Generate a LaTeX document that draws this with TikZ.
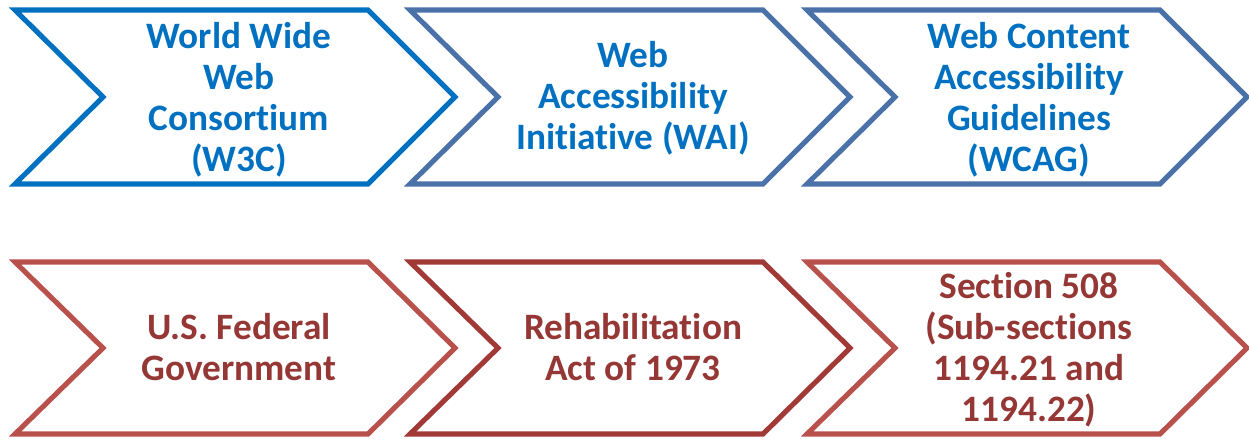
\documentclass[tikz,border=0pt]{standalone}
\usepackage{fontspec}
\setmainfont[Ligatures=NoCommon]{Carlito}
\usepackage{tikz}
\usetikzlibrary{positioning,calc}
\definecolor{wblue}{HTML}{0070C0}
\definecolor{wsteel}{HTML}{4A71A8}
\definecolor{wred}{HTML}{B8504C}
\definecolor{wdark}{HTML}{A13A37}
\definecolor{wtext}{HTML}{953735}
\tikzset{
  chev/.style={line width=1.45pt, line join=miter},
  chevtext/.style={align=center, font=\fontsize{10.6}{11.7}\selectfont\bfseries}
}
% one chevron: left x, top y, bottom y, colour
\newcommand{\chevron}[4]{%
  \draw[chev,#4] (#1,#2) -- ++(353,0) -- ($(#1+440,#2/2+#3/2)$) -- (#1+353,#3)
    -- (#1,#3) -- ($(#1+88,#2/2+#3/2)$) -- cycle;}

\begin{document}
\begin{tikzpicture}[x=0.01cm,y=-0.01cm]
  \useasboundingbox (0,0) rectangle (1249,438);
  % top row
  \chevron{15}{10}{184}{wblue}
  \chevron{410}{10}{184}{wsteel}
  \chevron{807}{10}{184}{wsteel}
  \node[chevtext,text=wblue] (w3c) at (239,100) {World Wide\\Web\\Consortium\\(W3C)};
  \node[chevtext,text=wblue] (wai) at (633,98) {Web\\Accessibility\\Initiative (WAI)};
  \node[chevtext,text=wblue] (wcag) at (1029,100) {Web Content\\Accessibility\\Guidelines\\(WCAG)};
  % bottom row
  \chevron{15}{262}{434}{wred}
  \chevron{410}{262}{434}{wdark}
  \chevron{807}{262}{434}{wred}
  \node[chevtext,text=wtext] (usgov) at (239,347) {U.S. Federal\\Government};
  \node[chevtext,text=wtext] (rehab) at (633,347) {Rehabilitation\\Act of 1973};
  \node[chevtext,text=wtext] (sec508) at (1029,350) {Section 508\\(Sub-sections\\1194.21 and\\1194.22)};
\end{tikzpicture}
\end{document}
